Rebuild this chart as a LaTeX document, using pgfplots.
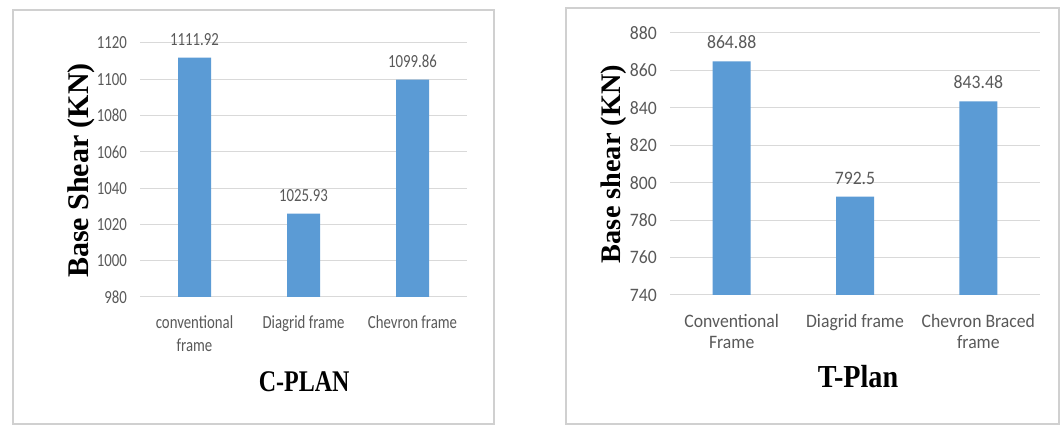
\documentclass[border=0pt]{standalone}
\usepackage{fontspec}
\usepackage{pgfplots}
\pgfplotsset{compat=1.18}
\newfontfamily\calL{Carlito}[FakeStretch=0.8]
\newfontfamily\calR{Carlito}[FakeStretch=0.93]
\newfontfamily\tnrL{Liberation Serif}[FakeStretch=0.8]
\newfontfamily\tnrR{Liberation Serif}[FakeStretch=0.88]
\newfontfamily\tnr{Liberation Serif}
\definecolor{barblue}{HTML}{5B9BD5}
\definecolor{gridgray}{HTML}{D9D9D9}
\definecolor{txtgray}{HTML}{595959}
\definecolor{framegray}{HTML}{D0D0D0}
\pgfplotsset{excelbar/.style={
  scale only axis, ybar, bar shift=0pt, clip=false,
  xmin=-0.5, xmax=2.5, xtick={0,1,2},
  axis line style={draw=none}, major tick length=0pt,
  ymajorgrids, xmajorgrids=false, major grid style={gridgray, line width=1pt},
  /pgf/number format/assume math mode=true,
  /pgf/number format/1000 sep={},
  yticklabel style={anchor=east, inner sep=0pt, xshift=-13pt, text=txtgray},
  xticklabel style={anchor=north, inner sep=0pt, align=center, text=txtgray},
  point meta=explicit symbolic,
  nodes near coords,
  nodes near coords style={anchor=south, inner sep=0pt, yshift=12pt, text=txtgray},
  xlabel style={anchor=center, inner sep=0pt, text=black},
  ylabel style={anchor=center, inner sep=0pt, text=black},
}}
\begin{document}
\begin{tikzpicture}
\useasboundingbox (0,0) rectangle (1062pt,430pt);
\fill[white] (0,0) rectangle (1062pt,430pt);
\draw[framegray, line width=1.5pt] (13pt,6pt) rectangle (494pt,420pt);
\draw[framegray, line width=1.5pt] (566pt,6pt) rectangle (1059pt,422pt);
% Left chart
\begin{axis}[excelbar,
  at={(140pt,133pt)}, anchor=south west,
  width=327pt, height=254pt,
  ymin=980, ymax=1120, ytick={980,1000,...,1120},
  bar width=33pt,
  ticklabel style={font=\calL\fontsize{18.5}{23}\selectfont},
  xticklabel style={yshift=-18.5pt},
  nodes near coords style={font=\calL\fontsize{18.5}{22}\selectfont},
  xticklabels={conventional\\frame, Diagrid frame, Chevron frame},
  xlabel={C-PLAN},
  xlabel style={at={(axis description cs:0.502,-0.335)}, font=\tnrL\bfseries\fontsize{30}{36}\selectfont},
  ylabel={Base Shear (KN)},
  ylabel style={at={(axis description cs:-0.18,0.498)}, font=\tnr\bfseries\fontsize{30}{36}\selectfont},
]
\addplot[fill=barblue, draw=none] coordinates {(0,1111.92) [1111.92] (1,1025.93) [1025.93] (2,1099.86) [1099.86]};
\end{axis}
% Right chart
\begin{axis}[excelbar,
  at={(670pt,135pt)}, anchor=south west,
  width=370pt, height=262pt,
  ymin=740, ymax=880, ytick={740,760,...,880},
  bar width=38pt,
  ticklabel style={font=\calR\fontsize{19}{21}\selectfont},
  xticklabel style={yshift=-19pt},
  nodes near coords style={font=\calR\fontsize{19}{22}\selectfont},
  xticklabels={Conventional\\Frame, Diagrid frame, Chevron Braced\\frame},
  xlabel={T-Plan},
  xlabel style={at={(axis description cs:0.508,-0.313)}, font=\tnrR\bfseries\fontsize{32}{38}\selectfont},
  ylabel={Base shear (KN)},
  ylabel style={at={(axis description cs:-0.153,0.5)}, font=\tnr\bfseries\fontsize{28.3}{34}\selectfont},
]
\addplot[fill=barblue, draw=none] coordinates {(0,864.88) [864.88] (1,792.5) [792.5] (2,843.48) [843.48]};
\end{axis}
\end{tikzpicture}
\end{document}
